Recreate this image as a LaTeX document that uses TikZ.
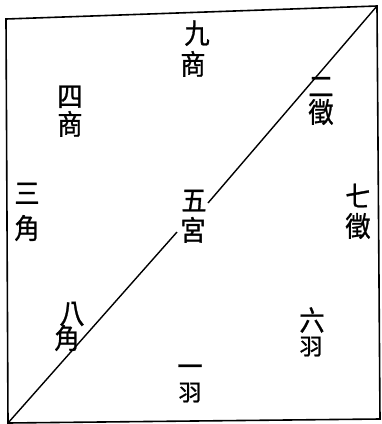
\documentclass[tikz,border=0pt]{standalone}
\usepackage{fontspec}
\newfontfamily\cjk[FakeStretch=0.9,FakeBold=1]{Noto Sans CJK TC}
\newfontfamily\cjkw[FakeBold=1]{Noto Sans CJK TC}
\begin{document}
\begin{tikzpicture}[x=1pt,y=-1pt,
  ch/.style={font=\cjk\fontsize{28}{28}\selectfont, inner sep=0pt,
             text height=21.3pt, text depth=0pt, anchor=center},
  chs/.style={font=\cjkw\fontsize{23}{23}\selectfont, inner sep=0pt,
             text height=17.5pt, text depth=0pt, anchor=center},
  frameline/.style={line width=1.6pt, line join=miter},
  diag/.style={line width=1.4pt}]
\useasboundingbox (0,0) rectangle (382,424);
% frame corners
\coordinate (tl) at (6,19);
\coordinate (tr) at (377,6);
\coordinate (br) at (380,419);
\coordinate (bl) at (8,423);
\draw[frameline] (tl) -- (tr) -- (br) -- (bl) -- cycle;
% diagonal, broken at the centre label
\coordinate (d1) at (177,232);
\coordinate (d2) at (208,203);
\draw[diag] (bl) -- (d1);
\draw[diag] (d2) -- (tr);
% labels
\node[ch] (jiu) at (197,33) {九};
\node[ch] (shang9) at (193,64) {商};
\node[ch] (si) at (70,96) {四};
\node[ch] (shang4) at (70,124) {商};
\node[ch] (er) at (321,86) {二};
\node[ch] (zhi2) at (321,112) {徵};
\node[ch] (san) at (27,193) {三};
\node[ch] (jiao3) at (27,228) {角};
\node[ch] (wu) at (194,200) {五};
\node[ch] (gong) at (193,230) {宮};
\node[ch] (qi) at (358,196) {七};
\node[ch] (zhi7) at (358,226) {徵};
\node[ch] (ba) at (72,313) {八};
\node[ch] (jiao8) at (67,338) {角};
\node[ch] (liu) at (312,320) {六};
\node[chs] (yu6) at (311,346) {羽};
\node[ch] (yi) at (190,366) {一};
\node[chs] (yu1) at (190,392) {羽};
\end{tikzpicture}
\end{document}
